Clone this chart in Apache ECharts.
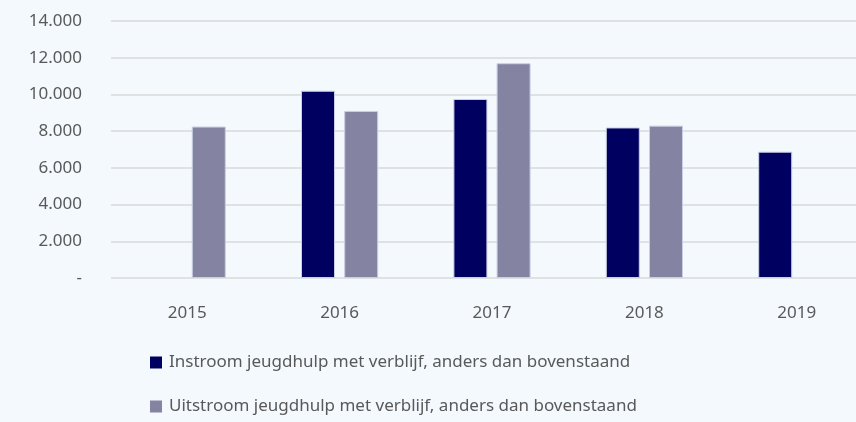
<!DOCTYPE html>
<html>
<head>
<meta charset="utf-8">
<script src="https://cdn.jsdelivr.net/npm/echarts@6/dist/echarts.min.js"></script>
<style>
html, body { margin: 0; padding: 0; background: #f3f9fd; overflow: hidden; }
#chart { width: 880px; height: 422px; }
</style>
</head>
<body>
<div id="chart"></div>
<script>
// jaren
var jaren = ['2015', '2016', '2017', '2018', '2019'];
// instroom / uitstroom
var instroom = [null, 10200, 9750, 8200, 6880];
var uitstroom = [8250, 9100, 11700, 8300, null];
var naamIn = 'Instroom jeugdhulp met verblijf, anders dan bovenstaand';
var naamUit = 'Uitstroom jeugdhulp met verblijf, anders dan bovenstaand';

var font = 'Source Sans Pro, Noto Sans, sans-serif';

// de grafiek loopt rechts iets buiten beeld door, daarom is de div breder dan het venster
var myChart = echarts.init(document.getElementById('chart'));

var option = {
    backgroundColor: '#f3f9fd',
    animation: false,
    textStyle: { fontFamily: font },
    grid: { left: 111, top: 21, width: 762, height: 257 },
    legend: {
        orient: 'vertical',
        left: 145,
        top: 349,
        itemGap: 27,
        itemWidth: 12,
        itemHeight: 12,
        icon: 'rect',
        itemStyle: { borderWidth: 0 },
        textStyle: { color: '#595959', fontSize: 17, fontFamily: font, padding: [0, 0, 0, 2] },
        data: [naamIn, naamUit]
    },
    xAxis: {
        type: 'category',
        data: jaren,
        axisLine: { show: false },
        axisTick: { show: false },
        axisLabel: { color: '#595959', fontSize: 17, margin: 27 }
    },
    yAxis: {
        type: 'value',
        min: 0,
        max: 14000,
        interval: 2000,
        axisLine: { show: false },
        axisTick: { show: false },
        splitLine: { lineStyle: { color: '#d9d9d9', width: 1.5 } },
        axisLabel: {
            color: '#595959',
            fontSize: 17,
            margin: 29,
            formatter: function (v) {
                if (v === 0) return '-';
                return String(v).replace(/\B(?=(\d{3})+(?!\d))/g, '.');
            }
        }
    },
    series: [{
        name: naamIn,
        type: 'bar',
        data: instroom,
        barWidth: 34,
        barGap: '27%',
        itemStyle: { color: '#000060', borderColor: '#c9cfe3', borderWidth: 1 }
    }, {
        name: naamUit,
        type: 'bar',
        data: uitstroom,
        barWidth: 34,
        itemStyle: { color: '#8484a2', borderColor: '#c9cfe3', borderWidth: 1 }
    }]
};

myChart.setOption(option);
</script>
</body>
</html>
